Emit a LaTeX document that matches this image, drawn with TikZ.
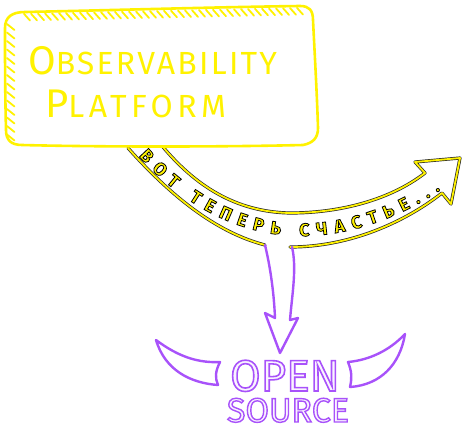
\documentclass[tikz,border=0pt]{standalone}
\usepackage{fontspec}
\setmainfont{Fira Sans}
\usetikzlibrary{decorations.text}
\definecolor{yel}{RGB}{255,242,0}
\definecolor{pur}{RGB}{168,82,250}
\definecolor{lav}{RGB}{250,244,255}
\newcommand\bandfont{\fontsize{18}{18}\selectfont\bfseries\color{yel}\special{pdf:literal direct 0 0 0 RG 0.8 w 2 Tr}}
\newcommand\purout[2]{\special{pdf:literal direct 0.659 0.322 0.980 RG #1 w 2 Tr}#2\special{pdf:literal direct 0 Tr}}
\begin{document}
\begin{tikzpicture}[x=1pt,y=1pt,
  boxline/.style={draw=yel, line width=2.6pt, line cap=round, line join=round},
  hatch/.style={draw=yel, line width=1.8pt, line cap=round},
  bandout/.style={draw=black!85, line width=3.2pt, line join=round, line cap=round},
  bandin/.style={draw=yel, line width=1.8pt, line join=round, line cap=round},
  purline/.style={draw=pur, line width=2.4pt, line join=round, line cap=round},
  titletxt/.style={text=yel, inner sep=0pt, anchor=base west},
  opentxt/.style={anchor=base, inner sep=0pt, text=lav, font=\fontsize{44}{44}\selectfont},
  srctxt/.style={anchor=base, inner sep=0pt, text=lav, font=\fontsize{34}{34}\selectfont},
  ]
\useasboundingbox (0,0) rectangle (463,-432);

% curved yellow band arrow
\foreach \st in {bandout,bandin}{
  \path[\st] (163,-147) .. controls (195,-185) and (235,-212) .. (290,-213)
     .. controls (340,-213) and (390,-200) .. (425,-173)
     -- (415,-162) -- (460,-158) -- (451,-204) -- (442,-193)
     .. controls (405,-222) and (350,-247) .. (290,-247);
  \path[\st] (265,-245) .. controls (215,-232) and (170,-195) .. (128,-148);
}

% text along the band
\path[decorate, decoration={text along path,
    text={|\bandfont|ВОТ ТЕПЕРЬ СЧАСТЬЕ...}, text align=fit to path,
    raise=-6pt}]
  (143,-152) .. controls (182,-195) and (232,-226) .. (292,-230)
  .. controls (345,-232) and (398,-212) .. (437,-185);

% the box
\path[boxline, fill=white] (25,-12) .. controls (120,-10) and (220,-7) .. (300,-6)
  .. controls (309,-6) and (313,-10) .. (313,-20)
  .. controls (315,-60) and (317,-95) .. (318,-128)
  .. controls (318,-138) and (313,-143) .. (303,-145)
  .. controls (220,-147) and (100,-147) .. (22,-145)
  .. controls (11,-145) and (6,-140) .. (6,-130)
  .. controls (5,-90) and (5,-60) .. (5,-28)
  .. controls (5,-17) and (12,-12) .. (25,-12) -- cycle;
\foreach \x in {24,31,...,300}
  \draw[hatch] (\x,{-(13.8-0.0218*(\x-25))}) -- ({\x+6},{-(20.5-0.0218*(\x-25))});
\foreach \y in {24,32.5,...,136}
  \draw[hatch] (7,-\y) -- (14.5,{-\y-6});

\node[titletxt] (t1) at (28,-74) {\fontsize{40}{40}\selectfont O\fontsize{32}{32}\selectfont\addfontfeatures{LetterSpace=7}BSERVABILITY};
\node[titletxt] (t2) at (45,-117) {\fontsize{40}{40}\selectfont P\fontsize{32}{32}\selectfont\addfontfeatures{LetterSpace=14}LATFORM};

% purple arrow
\path[purline] (265,-245) .. controls (271,-270) and (274,-295) .. (275,-318)
  -- (265,-313) -- (280,-353) -- (298,-318) -- (290,-320)
  .. controls (292,-295) and (297,-268) .. (292,-247);

% horns
\path[purline] (156,-340) .. controls (180,-358) and (200,-363) .. (220,-362)
  .. controls (215,-372) and (215,-378) .. (218,-385)
  .. controls (190,-383) and (165,-370) .. (156,-340) -- cycle;
\path[purline] (405,-334) .. controls (390,-350) and (370,-360) .. (348,-362)
  .. controls (352,-372) and (352,-378) .. (350,-387)
  .. controls (380,-385) and (400,-365) .. (405,-334) -- cycle;

% OPEN SOURCE
\node[opentxt] (open) at (285,-391) {\purout{1.6}{OPEN}};
\node[srctxt] (source) at (288,-422) {\purout{1.4}{SOURCE}};
\end{tikzpicture}
\end{document}
